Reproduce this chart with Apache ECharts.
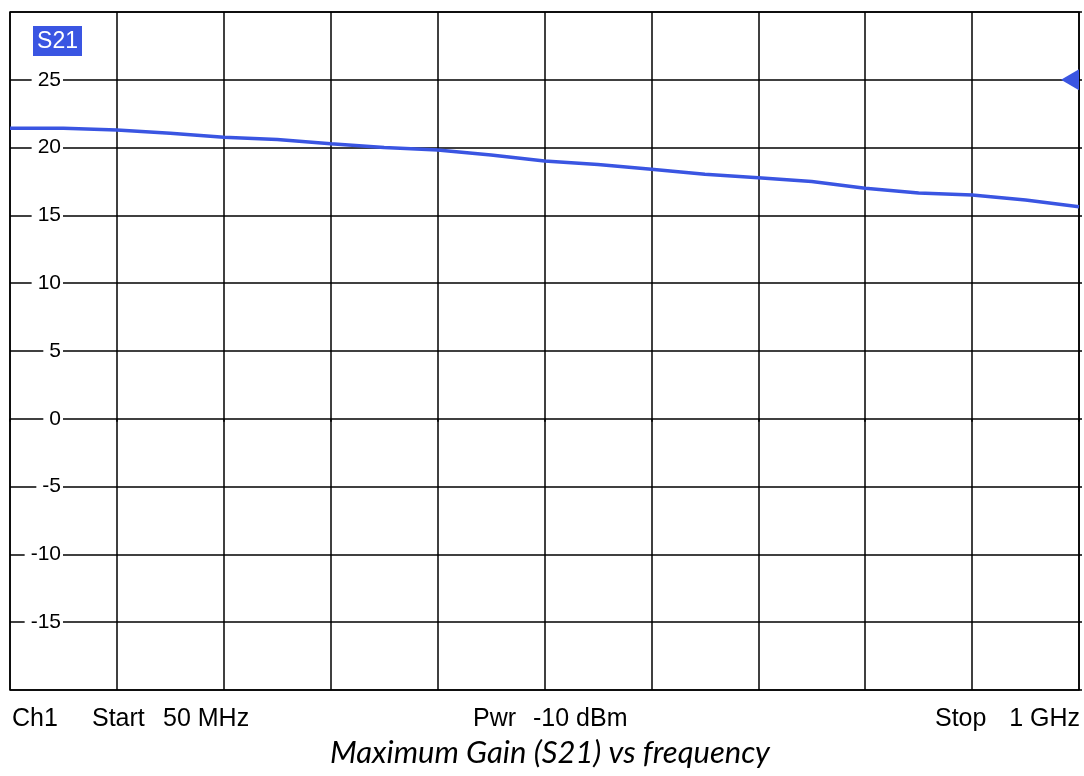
<!DOCTYPE html>
<html>
<head>
<meta charset="utf-8">
<script src="https://cdn.jsdelivr.net/npm/echarts@6/dist/echarts.min.js"></script>
<style>
html,body{margin:0;padding:0;background:#fff;}
#chart{width:1084px;height:776px;}
</style>
</head>
<body>
<div id="chart"></div>
<script>
// Frequency (MHz) and S21 gain (dB)
const freqMHz = [50, 97.5, 145, 192.5, 240, 287.5, 335, 382.5, 430, 477.5, 525,
                 572.5, 620, 667.5, 715, 762.5, 810, 857.5, 905, 952.5, 1000];
const gainDb  = [21.43, 21.43, 21.30, 21.05, 20.76, 20.59, 20.29, 20.01, 19.83, 19.46, 19.01,
                 18.75, 18.41, 18.03, 17.78, 17.50, 17.00, 16.65, 16.50, 16.13, 15.63];
const yTicks = {min: -20, max: 30, step: 5};
const xTicks = {min: 50, max: 1000, step: 95};
const refLevel = 25;
const traceName = 'S21';
const footer = {ch: 'Ch1', start: 'Start', startVal: '50 MHz', pwr: 'Pwr', pwrVal: '-10 dBm', stop: 'Stop', stopVal: '1 GHz'};
const caption = 'Maximum Gain (S21) vs frequency';

const blue = '#3a55e2';
const sans = 'Arial, "Liberation Sans", sans-serif';
const chart = echarts.init(document.getElementById('chart'));
const pts = freqMHz.map((f, i) => [f, gainDb[i]]);
const txt = (x, y, s, align) => ({
  type: 'text', x: x, y: y,
  style: {text: s, fill: '#000', font: '25px ' + sans,
          textAlign: align || 'left', textVerticalAlign: 'middle'}
});

chart.setOption({
  animation: false,
  backgroundColor: '#fff',
  grid: {left: 10, right: 5, top: 12, bottom: 86, show: true, borderColor: '#000', borderWidth: 1.5, backgroundColor: 'transparent'},
  xAxis: {
    type: 'value', min: xTicks.min, max: xTicks.max, interval: xTicks.step,
    axisLine: {show: false},
    axisTick: {show: true, length: 3, lineStyle: {color: '#000', width: 1.5}},
    axisLabel: {show: false},
    splitLine: {show: true, lineStyle: {color: '#000', width: 1.5}}
  },
  yAxis: [{
    type: 'value', min: yTicks.min, max: yTicks.max, interval: yTicks.step,
    axisLine: {show: false},
    axisTick: {show: false},
    axisLabel: {
      inside: true, margin: 53, align: 'right', showMinLabel: false, showMaxLabel: false,
      color: '#000', fontSize: 21, fontFamily: sans,
      backgroundColor: '#fff', padding: [0, 2, 0, 6]
    },
    splitLine: {show: true, lineStyle: {color: '#000', width: 1.5}},
    z: 3
  }, {
    type: 'value', position: 'right', min: yTicks.min, max: yTicks.max, interval: yTicks.step,
    axisLine: {show: false},
    axisTick: {show: true, length: 3, lineStyle: {color: '#000', width: 1.5}},
    axisLabel: {show: false}, splitLine: {show: false}
  }],
  series: [{
    name: traceName, type: 'line', data: pts, showSymbol: false, smooth: false,
    lineStyle: {color: blue, width: 3.5}, z: 5,
    markPoint: {
      silent: true, symbol: 'triangle', symbolSize: [21, 18], symbolRotate: 90, symbolOffset: [-9, 0],
      itemStyle: {color: blue}, label: {show: false},
      data: [{coord: [xTicks.max, refLevel]}]
    }
  }],
  graphic: [
    {type: 'rect', shape: {x: 33, y: 26, width: 49, height: 30}, style: {fill: blue}, z: 10},
    {type: 'text', x: 57.5, y: 41.5, z: 11, style: {text: traceName, fill: '#fff', font: '23px ' + sans, textAlign: 'center', textVerticalAlign: 'middle'}},
    txt(12, 719, footer.ch),
    txt(92, 719, footer.start),
    txt(163, 719, footer.startVal),
    txt(473, 719, footer.pwr),
    txt(533, 719, footer.pwrVal),
    txt(935, 719, footer.stop),
    txt(1080, 719, footer.stopVal, 'right'),
    {type: 'text', x: 550, y: 753, style: {text: caption, fill: '#000', font: 'italic 31px Lato, "Open Sans", sans-serif', textAlign: 'center', textVerticalAlign: 'middle'}}
  ]
});
</script>
</body>
</html>
